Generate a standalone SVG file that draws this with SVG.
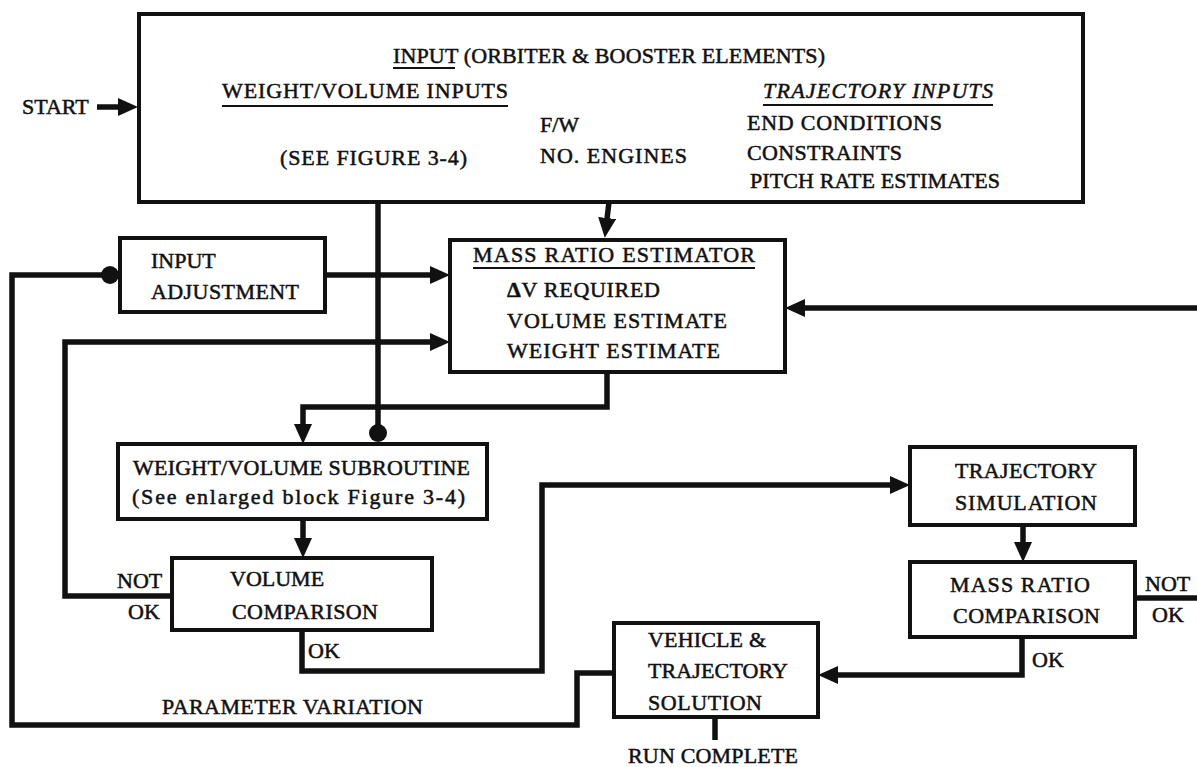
<svg xmlns="http://www.w3.org/2000/svg" width="1197" height="767" viewBox="0 0 1197 767">
<style>
.box{fill:#fff;stroke:#111;stroke-width:4}
.c{fill:none;stroke:#111;stroke-width:5.5;stroke-linejoin:miter}
.t{font-family:"Liberation Serif","Times New Roman",serif;font-size:22px;fill:#111;stroke:#111;stroke-width:0.5}
.it{font-style:italic}
.u{stroke:#111;stroke-width:2}
</style>
<defs>
<marker id="arr" viewBox="0 0 20 18" markerWidth="20" markerHeight="18" refX="1" refY="9" orient="auto" markerUnits="userSpaceOnUse">
<path d="M0,0 L20,9 L0,18 z" fill="#111"/>
</marker>
<marker id="dot" viewBox="0 0 20 20" markerWidth="20" markerHeight="20" refX="10" refY="10" orient="auto" markerUnits="userSpaceOnUse">
<circle cx="10" cy="10" r="9" fill="#111"/>
</marker>
</defs>
<rect width="1197" height="767" fill="#fff"/>
<g id="connectors">
<path class="c" d="M97,107 H119" marker-end="url(#arr)"/>
<path class="c" d="M609,202 L607,219" marker-end="url(#arr)"/>
<path class="c" d="M378,202 V433" marker-end="url(#dot)"/>
<path class="c" d="M325,275 H431" marker-end="url(#arr)"/>
<path class="c" d="M614,673 H577 V725 H12 V275 H110" marker-end="url(#dot)"/>
<path class="c" d="M172,596 H65 V342 H431" marker-end="url(#arr)"/>
<path class="c" d="M607,372 V407 H303 V425" marker-end="url(#arr)"/>
<path class="c" d="M303,519 V539" marker-end="url(#arr)"/>
<path class="c" d="M302,630 V671 H542 V485 H891" marker-end="url(#arr)"/>
<path class="c" d="M1023,525 V543" marker-end="url(#arr)"/>
<path class="c" d="M1135,598 H1197"/>
<path class="c" d="M1197,308 H804" marker-end="url(#arr)"/>
<path class="c" d="M1022,637 V675 H837" marker-end="url(#arr)"/>
<path class="c" d="M715,717 V740"/>
<text class="t" x="22" y="114">START</text>
<text class="t" x="117" y="588">NOT</text>
<text class="t" x="128" y="619">OK</text>
<text class="t" x="308" y="658">OK</text>
<text class="t" x="162" y="714" textLength="261">PARAMETER VARIATION</text>
<text class="t" x="1145" y="591">NOT</text>
<text class="t" x="1152" y="622">OK</text>
<text class="t" x="1032" y="667">OK</text>
<text class="t" x="628" y="763" textLength="170">RUN COMPLETE</text>
</g>
<g id="input">
<rect class="box" x="139" y="14" width="944" height="188"/>
<text class="t" x="393" y="63" textLength="432">INPUT (ORBITER &amp; BOOSTER ELEMENTS)</text>
<line class="u" x1="393" y1="68" x2="455" y2="68"/>
<text class="t" x="222" y="98" textLength="286">WEIGHT/VOLUME INPUTS</text>
<line class="u" x1="222" y1="106" x2="508" y2="106"/>
<text class="t" x="280" y="165" textLength="187">(SEE FIGURE 3-4)</text>
<text class="t" x="540" y="132">F/W</text>
<text class="t" x="540" y="163" textLength="147">NO. ENGINES</text>
<text class="t it" x="763" y="98" textLength="230">TRAJECTORY INPUTS</text>
<line class="u" x1="763" y1="105" x2="993" y2="105"/>
<text class="t" x="747" y="130" textLength="195">END CONDITIONS</text>
<text class="t" x="747" y="160" textLength="155">CONSTRAINTS</text>
<text class="t" x="750" y="188" textLength="250">PITCH RATE ESTIMATES</text>
</g>
<g id="input-adjustment">
<rect class="box" x="120" y="238" width="205" height="74"/>
<text class="t" x="151" y="268">INPUT</text>
<text class="t" x="151" y="299" textLength="148">ADJUSTMENT</text>
</g>
<g id="mass-ratio-estimator">
<rect class="box" x="450" y="240" width="335" height="132"/>
<text class="t" x="473" y="262" textLength="282">MASS RATIO ESTIMATOR</text>
<line class="u" x1="473" y1="268" x2="755" y2="268"/>
<text class="t" x="507" y="297" textLength="153"><tspan font-weight="bold">Δ</tspan>V  REQUIRED</text>
<text class="t" x="507" y="328" textLength="220">VOLUME ESTIMATE</text>
<text class="t" x="507" y="358" textLength="213">WEIGHT ESTIMATE</text>
</g>
<g id="weight-volume-subroutine">
<rect class="box" x="118" y="444" width="369" height="75"/>
<text class="t" x="133" y="475" textLength="337">WEIGHT/VOLUME SUBROUTINE</text>
<text class="t" x="132" y="504" textLength="333">(See enlarged block Figure 3-4)</text>
</g>
<g id="volume-comparison">
<rect class="box" x="172" y="558" width="260" height="72"/>
<text class="t" x="230" y="586">VOLUME</text>
<text class="t" x="232" y="619" textLength="146">COMPARISON</text>
</g>
<g id="trajectory-simulation">
<rect class="box" x="910" y="447" width="225" height="78"/>
<text class="t" x="955" y="478" textLength="142">TRAJECTORY</text>
<text class="t" x="955" y="510" textLength="142">SIMULATION</text>
</g>
<g id="mass-ratio-comparison">
<rect class="box" x="910" y="562" width="225" height="75"/>
<text class="t" x="950" y="592" textLength="140">MASS RATIO</text>
<text class="t" x="953" y="623" textLength="147">COMPARISON</text>
</g>
<g id="vehicle-trajectory-solution">
<rect class="box" x="614" y="623" width="204" height="94"/>
<text class="t" x="648" y="647" textLength="118">VEHICLE &amp;</text>
<text class="t" x="648" y="678" textLength="140">TRAJECTORY</text>
<text class="t" x="648" y="710" textLength="114">SOLUTION</text>
</g>
</svg>
